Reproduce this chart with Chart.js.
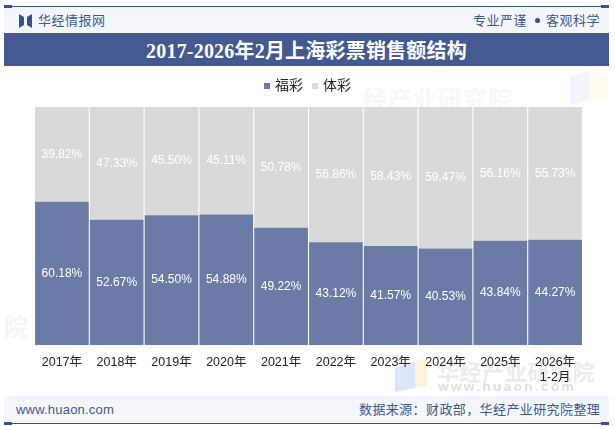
<!DOCTYPE html>
<html lang="zh">
<head>
<meta charset="utf-8">
<script src="https://cdn.jsdelivr.net/npm/chart.js@4"></script>
<style>
  html, body { margin: 0; padding: 0; background: #fff; }
  #page { position: relative; width: 615px; height: 427px; overflow: hidden; font-family: "Liberation Sans", "Noto Sans CJK SC", sans-serif; }
  #page > div { position: absolute; }
  canvas { position: absolute; left: 0; top: 0; }
  svg { position: absolute; }
  .line { left: 4px; width: 605px; height: 1px; background: #34558b; }
  .tab { width: 8px; height: 3px; background: #34558b; }
  .band { left: 4px; width: 605px; background: #f3f6fb; }
  #title { left: 4px; top: 34px; width: 605px; height: 32px; background: #43598f; color: #fff; text-align: center; letter-spacing: .2px; font: bold 20px/34px "Liberation Serif", "Noto Sans CJK SC", serif; }
  #titleBg { left: 4px; top: 33px; width: 605px; height: 33px; background: #43598f; }
  .txt { color: #3f5a8a; white-space: nowrap; }
  .mark { font-weight: bold; white-space: nowrap; }
</style>
</head>
<body>
<div id="page">
  <!-- faint watermarks sit below the chart canvas -->
  <div class="mark" style="left:363px;top:80px;font-size:24px;letter-spacing:1px;color:#f7f7f7">经产业研究院</div>
  <div class="mark" style="left:4px;top:308px;font-size:24px;color:#f5f5f5">院</div>
  <svg style="left:570px;top:70px" width="40" height="36"><path d="M0 6 L20 0 V30 L0 36 Z" fill="#f1f6fd"/><path d="M20 0 L38 6 V30 L20 30 Z" fill="#fefbf0"/></svg>
  <svg style="left:395px;top:358px" width="36" height="34"><path d="M0 10 L20 3 V30 L0 34 Z" fill="#dce6f8"/><path d="M20 3 L32 0 V28 L20 30 Z" fill="#fbf3d6"/></svg>
  <div class="mark" style="left:437px;top:354px;font-size:22px;letter-spacing:.6px;color:#ececec">华经产业研究院</div>
  <div class="mark" style="left:438px;top:379px;font-size:13.5px;letter-spacing:2.4px;color:#dfdfdf">www.huaon.com</div>

  <canvas id="chart" width="615" height="427"></canvas>

  <div class="band" style="top:7px;height:26px"></div>
  <div class="line" style="top:6px"></div>
  <div class="tab" style="left:4px;top:5px"></div>
  <div class="tab" style="left:601px;top:5px"></div>
  <svg style="left:19px;top:14px" width="13" height="14"><path d="M0 0 L5 3 V11 L0 14 Z M13 0 L8 3 V11 L13 14 Z" fill="#34558b"/></svg>
  <div class="txt" style="left:38px;top:12px;font-size:13px;letter-spacing:.5px;line-height:18px">华经情报网</div>
  <div class="txt" style="left:473px;top:12px;font-size:13px;letter-spacing:.5px;line-height:18px">专业严谨</div>
  <div style="left:535px;top:18px;width:5px;height:5px;border-radius:50%;background:#34558b"></div>
  <div class="txt" style="left:546px;top:12px;font-size:13px;letter-spacing:.5px;line-height:18px">客观科学</div>
  <div id="titleBg"></div>
  <div id="title">2017-2026年2月上海彩票销售额结构</div>

  <div class="band" style="top:396px;height:26px"></div>
  <div class="line" style="top:423px"></div>
  <div class="tab" style="left:4px;top:422px"></div>
  <div class="tab" style="left:601px;top:422px"></div>
  <div class="txt" style="left:16px;top:401px;font-size:13px;letter-spacing:.2px;line-height:18px">www.huaon.com</div>
  <div class="txt" style="left:359px;top:401px;font-size:13px;letter-spacing:.4px;line-height:18px">数据来源：财政部，华经产业研究院整理</div>
</div>

<script>
const categories = ["2017年", "2018年", "2019年", "2020年", "2021年", "2022年", "2023年", "2024年", "2025年", ["2026年", "1-2月"]];
const fucai = [60.18, 52.67, 54.50, 54.88, 49.22, 43.12, 41.57, 40.53, 43.84, 44.27];
const ticai = [39.82, 47.33, 45.50, 45.11, 50.78, 56.86, 58.43, 59.47, 56.16, 55.73];

const fontFamily = '"Liberation Sans", "Noto Sans CJK SC", sans-serif';

// small square legend marker, so the text can sit closer to it
function squareMarker(color) {
  const c = document.createElement("canvas");
  c.width = 6;
  c.height = 6;
  const g = c.getContext("2d");
  g.fillStyle = color;
  g.fillRect(0, 0, 6, 6);
  return c;
}

// prints each segment's percentage in the middle of its bar
const valueLabels = {
  id: "valueLabels",
  afterDatasetsDraw(chart) {
    const ctx = chart.ctx;
    ctx.save();
    ctx.font = '12px "Liberation Sans", sans-serif';
    ctx.fillStyle = "#ffffff";
    ctx.textAlign = "center";
    ctx.textBaseline = "middle";
    chart.data.datasets.forEach((ds, i) => {
      chart.getDatasetMeta(i).data.forEach((bar, j) => {
        const mid = (bar.y + bar.base) / 2;
        ctx.fillText(ds.data[j].toFixed(2) + "%", bar.x, mid);
      });
    });
    ctx.restore();
  },
};

// a little extra room between legend and bars
const legendGap = {
  id: "legendGap",
  beforeInit(chart) {
    const fit = chart.legend.fit;
    chart.legend.fit = function () {
      fit.call(this);
      this.height += 4;
    };
  },
};

new Chart(document.getElementById("chart"), {
  type: "bar",
  data: {
    labels: categories,
    datasets: [
      { label: "福彩", data: fucai, backgroundColor: "#6a7ca5", borderWidth: 0, barPercentage: 0.98, categoryPercentage: 1 },
      { label: "体彩", data: ticai, backgroundColor: "#d9d9d9", borderWidth: 0, barPercentage: 0.98, categoryPercentage: 1 },
    ],
  },
  options: {
    responsive: false,
    animation: false,
    layout: { padding: { left: 34.5, right: 32.5, top: 68, bottom: 32 } },
    plugins: {
      tooltip: { enabled: false },
      legend: {
        position: "top",
        labels: {
          usePointStyle: true,
          pointStyleWidth: 2,
          boxWidth: 6,
          boxHeight: 6,
          padding: 11,
          color: "#222",
          font: { size: 14, family: fontFamily },
          generateLabels(chart) {
            return Chart.defaults.plugins.legend.labels.generateLabels(chart).map((item) => {
              item.pointStyle = squareMarker(item.fillStyle);
              return item;
            });
          },
        },
      },
    },
    scales: {
      x: {
        stacked: true,
        grid: { display: false },
        border: { display: false },
        afterFit(scale) { scale.height = 50; },
        ticks: {
          color: "#222",
          maxRotation: 0,
          autoSkip: false,
          padding: 2,
          font: { size: 12.5, family: fontFamily },
        },
      },
      y: { stacked: true, display: false, min: 0, max: 100 },
    },
  },
  plugins: [valueLabels, legendGap],
});
</script>
</body>
</html>
